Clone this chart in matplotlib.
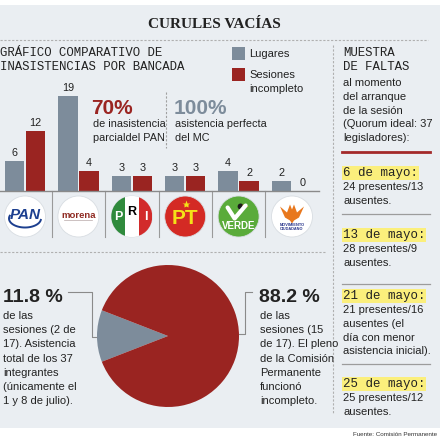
import matplotlib
matplotlib.use("Agg")
import matplotlib.pyplot as plt
from matplotlib.patches import Rectangle, Circle, Polygon
import numpy as np

# datos
parties = ["PAN", "morena", "PRI", "PT", "VERDE", "MC"]
lugares = [6, 19, 3, 3, 4, 2]
sesiones_incompleto = [12, 4, 3, 3, 2, 0]

pie_values = [11.8, 88.2]
pie_pct_labels = ["11.8 %", "88.2 %"]
pie_left_text = ["de las", "sesiones (2 de", "17). Asistencia", "total de los 37",
                 "integrantes", "(únicamente el", "1 y 8 de julio)."]
pie_right_text = ["de las", "sesiones (15", "de 17). El pleno", "de la Comisión",
                  "Permanente", "funcionó", "incompleto."]

faltas_intro = ["al momento", "del arranque", "de la sesión", "(Quorum ideal: 37",
                "legisladores):"]
faltas_fechas = ["6 de mayo:", "13 de mayo:", "21 de mayo:", "25 de mayo:"]
faltas_textos = [["24 presentes/13", "ausentes."],
                 ["28 presentes/9", "ausentes."],
                 ["21 presentes/16", "ausentes (el", "día con menor", "asistencia inicial)."],
                 ["25 presentes/12", "ausentes."]]

# estilos
BG = "#eaeef2"
GRAY = "#7d8c9b"
RED = "#9a2421"
DARK = "#222222"
YELLOW = "#fbef7c"
LINE = "#9c9c9c"
NARROW = ["Liberation Sans Narrow", "Liberation Sans", "DejaVu Sans"]
MONO = ["Liberation Mono", "DejaVu Sans Mono"]
SERIF = ["Liberation Serif", "DejaVu Serif"]

fig = plt.figure(figsize=(4.4, 4.4), dpi=100, facecolor="white")
bg = fig.add_axes([0, 0, 1, 1])
bg.set_xlim(0, 440)
bg.set_ylim(440, 0)
bg.axis("off")
bg.add_patch(Rectangle((0, 5), 440, 423, fc=BG, ec="none", zorder=0))


def txt(x, y, s, size=8, color=DARK, family=NARROW, **kw):
    kw.setdefault("va", "center")
    kw.setdefault("ha", "left")
    return bg.text(x, y, s, fontsize=size, color=color, family=family, **kw)


def lines(x, y0, step, items, **kw):
    for k, s in enumerate(items):
        txt(x, y0 + k * step, s, **kw)


# titulo
txt(214, 25, "CURULES VACÍAS", size=11, family=SERIF, weight="bold", ha="center")
bg.plot([0, 428], [40, 40], ls=(0, (2, 1.5)), color="#b0b0b0", lw=0.8)
bg.plot([333, 333], [45, 413], ls=(0, (2, 1.5)), color="#b0b0b0", lw=0.8)
bg.plot([0, 325], [252, 252], ls=(0, (2, 1.5)), color="#b0b0b0", lw=0.8)

# encabezado de barras
txt(0.5, 53, "GRÁFICO COMPARATIVO DE", size=8.9, family=MONO)
txt(0.5, 67, "INASISTENCIAS POR BANCADA", size=8.9, family=MONO)
bg.add_patch(Rectangle((232, 47), 13, 13, fc=GRAY, ec="none"))
bg.add_patch(Rectangle((232, 68), 13, 13, fc=RED, ec="none"))
txt(249, 54, "Lugares", size=8)
txt(249, 75, "Sesiones", size=8)
txt(249, 89, "incompleto", size=8)

txt(91, 108, "70%", size=15, color=RED, weight="bold")
lines(93, 124, 14, ["de inasistencia", "parcialdel PAN"], size=7.8)
bg.plot([165.5, 165.5], [92, 148], ls=(0, (2, 1.5)), color="#a0a0a0", lw=0.8)
txt(174, 108, "100%", size=15, color=GRAY, weight="bold")
lines(175, 124, 14, ["asistencia perfecta", "del MC"], size=7.8)

# barras
ax = fig.add_axes([0, 1 - 191 / 440, 319 / 440, 100 / 440])
ax.patch.set_alpha(0)
ax.set_xlim(-25 / 53.4, (319 - 25) / 53.4)
ax.set_ylim(0, 20)
ax.axis("off")
x = np.arange(len(parties))
w, off = 0.365, 0.197
b1 = ax.bar(x - off, lugares, w, color=GRAY, clip_on=False)
b2 = ax.bar(x + off, sesiones_incompleto, w, color=RED, clip_on=False)
for xs, vals in [(x - off, lugares), (x + off, sesiones_incompleto)]:
    for xi, v in zip(xs, vals):
        ax.annotate(str(v), (xi, v), xytext=(0, 2.5), textcoords="offset points",
                    ha="center", va="bottom", fontsize=7.8, color=DARK,
                    family=NARROW, annotation_clip=False)
ax.axhline(0, color="#8a8a8a", lw=1, clip_on=False)


def to_px(i):
    dx, dy = ax.transData.transform((i, 0))
    return dx, 440 - dy


# separadores y logos
for i in range(len(parties) - 1):
    sx, sy = to_px(i + 0.5)
    bg.plot([sx, sx], [sy, sy + 46], color="#9a9a9a", lw=0.8)

R = 20.5


def logo(name, cx, cy):
    if name == "PAN":
        bg.add_patch(Circle((cx, cy), R, fc="white", ec="#d8dde2", lw=0.6))
        t = np.linspace(0.05 * np.pi, 1.1 * np.pi, 40)
        bg.plot(cx + 16 * np.cos(t), cy + 2 + 9 * np.sin(t), color="#1c3f8f", lw=1.4)
        txt(cx, cy - 1, "PAN", size=11, color="#1c3f8f", family=["Liberation Sans", "DejaVu Sans"],
            weight="bold", style="italic", ha="center")
    elif name == "morena":
        bg.add_patch(Circle((cx, cy), R, fc="white", ec="#d8dde2", lw=0.6))
        txt(cx, cy - 1, "morena", size=6.8, color="#8f2a22", weight="bold", ha="center",
            family=["Liberation Sans", "DejaVu Sans"])
        bg.plot([cx - 14, cx + 14], [cy + 4, cy + 4], color="#b8a8a8", lw=0.5)
    elif name == "PRI":
        c = Circle((cx, cy), R, fc="white", ec="#d8dde2", lw=0.6)
        bg.add_patch(c)
        for k, col in enumerate(["#2f8a3c", "white", "#d22b2b"]):
            r = Rectangle((cx - R + k * 2 * R / 3, cy - R), 2 * R / 3, 2 * R, fc=col, ec="none")
            bg.add_patch(r)
            r.set_clip_path(c)
        for k, (ch, col) in enumerate([("P", "white"), ("R", "black"), ("I", "white")]):
            txt(cx - 2 * R / 3 + k * 2 * R / 3, cy - 1 + (k == 1) * -3 + (k != 1) * 2, ch,
                size=9, color=col, weight="bold", ha="center",
                family=["Liberation Sans", "DejaVu Sans"])
    elif name == "PT":
        bg.add_patch(Circle((cx, cy), R, fc="#d42a24", ec="#d8dde2", lw=0.6))
        txt(cx, cy + 2, "PT", size=15, color="#f4e218", weight="bold", ha="center",
            family=["Liberation Sans", "DejaVu Sans"])
        bg.plot([cx + 1], [cy - 12], marker="*", ms=6, color="#f4e218", mec="none")
    elif name == "VERDE":
        bg.add_patch(Circle((cx, cy), R, fc="#5aab3a", ec="#d8dde2", lw=0.6))
        bg.plot([cx - 11, cx - 4, cx + 7], [cy - 9, cy + 2, cy - 11], color="white", lw=3,
                solid_capstyle="round")
        bg.add_patch(Circle((cx + 2, cy - 10), 3, fc="#1b1b1b", ec="none"))
        bg.add_patch(Polygon([(cx + 4, cy - 12), (cx + 10, cy - 10), (cx + 4, cy - 8)],
                             fc="#f0a020", ec="none"))
        txt(cx, cy + 10, "VERDE", size=7, color="white", weight="bold", ha="center",
            family=["Liberation Sans", "DejaVu Sans"])
    elif name == "MC":
        bg.add_patch(Circle((cx, cy), R, fc="white", ec="#d8dde2", lw=0.6))
        pts = [(-12, -9), (-5, -3), (-2, -11), (0, -6), (2, -11), (5, -3), (12, -9),
               (7, 2), (2, 5), (0, 8), (-2, 5), (-7, 2)]
        bg.add_patch(Polygon([(cx + a, cy + b - 1) for a, b in pts], fc="#e8781e", ec="none"))
        txt(cx, cy + 11, "MOVIMIENTO\nCIUDADANO", size=2.8, color="#27348b", weight="bold",
            ha="center", family=["Liberation Sans", "DejaVu Sans"], linespacing=1.0)


for i, name in enumerate(parties):
    lx, ly = to_px(i)
    logo(name, lx, ly + 25.5)

# panel derecho
txt(343, 53, "MUESTRA", size=8.9, family=MONO)
txt(343, 67, "DE FALTAS", size=8.9, family=MONO)
lines(343, 83, 13.75, faltas_intro, size=8)
bg.plot([342, 430], [152, 152], color="#a3292a", lw=2)

fecha_y = [173, 235, 296, 384]
for k, (f, body, fy) in enumerate(zip(faltas_fechas, faltas_textos, fecha_y)):
    txt(343, fy, f, size=9, family=MONO,
        bbox=dict(boxstyle="square,pad=0.05", fc=YELLOW, ec="none"))
    lines(343, fy + 14, 13.8, body, size=8)
for sy in [214, 284, 364]:
    bg.plot([342, 430], [sy, sy], color=LINE, lw=0.9)

# pastel
pa = fig.add_axes([(168 - 71) / 440, 1 - (336 + 71) / 440, 142 / 440, 142 / 440])
half = pie_values[0] / sum(pie_values) * 180
pa.pie(pie_values, colors=[GRAY, RED], startangle=180 - half, radius=1,
       wedgeprops=dict(linewidth=0))
pa.set_xlim(-1, 1)
pa.set_ylim(-1, 1)
pa.axis("off")

bg.plot([68, 92, 92, 98], [292, 292, 337, 337], color="#8a8a8a", lw=0.8)
bg.plot([252, 245, 245, 239], [292, 292, 334, 334], color="#8a8a8a", lw=0.8)
txt(3, 297, pie_pct_labels[0], size=14, weight="bold")
lines(3, 316, 14.2, pie_left_text, size=8)
txt(259, 297, pie_pct_labels[1], size=14, weight="bold")
lines(260, 316, 14.2, pie_right_text, size=8)

txt(437, 434, "Fuente: Comisión Permanente", size=4.5, color="#333333", ha="right")

fig.savefig("out.png", dpi=100, facecolor="white")
